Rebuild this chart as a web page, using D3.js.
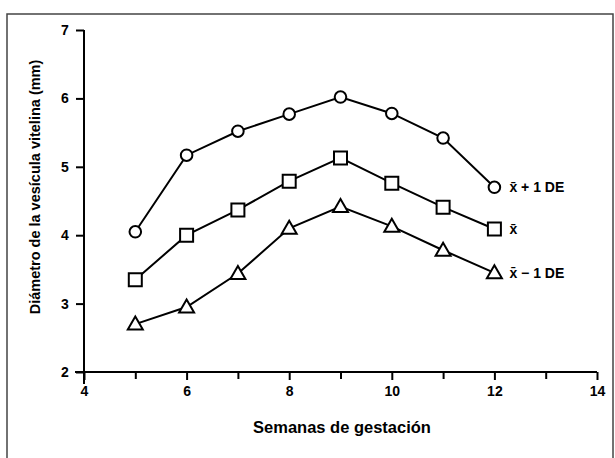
<!DOCTYPE html>
<html>
<head>
<meta charset="utf-8">
<script src="https://cdn.jsdelivr.net/npm/d3@7"></script>
<style>
  body { margin: 0; background: #fff; }
  svg { font-family: "Liberation Sans", Arial, sans-serif; }
  .axis path, .axis line { stroke: #000; stroke-width: 2; }
  .title { font-weight: bold; fill: #000; }
</style>
</head>
<body>
<div id="chart"></div>
<script>
// semanas de gestacion
const weeks = [5, 6, 7, 8, 9, 10, 11, 12];
// media + 1 DE
const upper = [4.05, 5.17, 5.52, 5.77, 6.02, 5.78, 5.42, 4.70];
// media
const mean = [3.35, 4.0, 4.37, 4.79, 5.13, 4.76, 4.41, 4.09];
// media - 1 DE
const lower = [2.7, 2.95, 3.44, 4.1, 4.42, 4.13, 3.78, 3.45];
const seriesLabels = ["x\u0304 + 1 DE", "x\u0304", "x\u0304 \u2212 1 DE"];
const xTicks = [4, 6, 8, 10, 12, 14];
const yTicks = [2, 3, 4, 5, 6, 7];

const W = 615, H = 458;
const margin = {top: 30, right: 18, bottom: 86, left: 84};

const svg = d3.select("#chart").append("svg")
    .attr("width", W)
    .attr("height", H);

// frame
svg.append("rect")
    .attr("x", 7).attr("y", 14)
    .attr("width", 606).attr("height", 460)
    .attr("fill", "none")
    .attr("stroke", "#444")
    .attr("stroke-width", 1.5);

const g = svg.append("g")
    .attr("transform", `translate(${margin.left},${margin.top})`);

const width = 597 - margin.left;
const height = 372 - margin.top;

const x = d3.scaleLinear().domain([4, 14]).range([0, width]);
const y = d3.scaleLinear().domain([2, 7]).range([height, 0]);

// x axis with minor ticks
const xAxis = g.append("g")
    .attr("class", "x-axis axis")
    .attr("transform", `translate(0,${height})`)
    .call(d3.axisBottom(x).tickValues(d3.range(4, 15, 1)).tickSize(8).tickSizeOuter(0)
        .tickFormat(d => xTicks.includes(d) ? d : ""));
xAxis.select(".domain").attr("d", `M-9,0H${width}`);
xAxis.selectAll(".tick line").filter(d => !xTicks.includes(d)).attr("y2", 7);

const yAxis = g.append("g")
    .attr("class", "y-axis axis")
    .call(d3.axisLeft(y).tickValues(yTicks).tickSize(8).tickSizeOuter(0).tickFormat(d3.format("d")));
yAxis.select(".domain").attr("d", `M0,${height + 12}V0`);

g.selectAll(".axis")
    .attr("font-size", 14)
    .attr("font-family", null)
    .attr("font-weight", "bold");
xAxis.selectAll(".tick text").attr("dy", "0.95em");
yAxis.selectAll(".tick text").attr("dx", "-0.3em");

// axis titles
svg.append("text")
    .attr("class", "title")
    .attr("x", 342).attr("y", 433)
    .attr("text-anchor", "middle")
    .style("font-size", "16.5px")
    .text("Semanas de gestación");

svg.append("text")
    .attr("class", "title")
    .attr("transform", "translate(40,187) rotate(-90)")
    .attr("text-anchor", "middle")
    .style("font-size", "14.5px")
    .text("Diámetro de la vesícula vitelina (mm)");

const line = d3.line()
    .x((d, i) => x(weeks[i]))
    .y(d => y(d));

const allSeries = [upper, mean, lower];
const shapes = ["circle", "square", "triangle"];

allSeries.forEach((s, k) => {
    g.append("path")
        .datum(s)
        .attr("d", line)
        .attr("fill", "none")
        .attr("stroke", "#000")
        .attr("stroke-width", 2);

    const marks = g.selectAll(".m" + k)
        .data(s)
        .enter().append("path")
        .attr("class", "m" + k)
        .attr("transform", (d, i) => `translate(${x(weeks[i])},${y(d)})`)
        .attr("fill", "#fff")
        .attr("stroke", "#000")
        .attr("stroke-width", 2);

    if (shapes[k] == "circle") {
        marks.attr("d", d3.symbol().type(d3.symbolCircle).size(105));
    } else if (shapes[k] == "square") {
        marks.attr("d", "M-6.5,-6.5H6.5V6.5H-6.5Z");
    } else {
        marks.attr("d", "M0,-7.5L7.5,5.5H-7.5Z");
    }

    g.append("text")
        .attr("x", x(12) + 15)
        .attr("y", y(s[s.length - 1]))
        .attr("dy", "0.35em")
        .style("font-size", "14px")
        .style("font-weight", "bold")
        .text(seriesLabels[k]);
});
</script>
</body>
</html>
